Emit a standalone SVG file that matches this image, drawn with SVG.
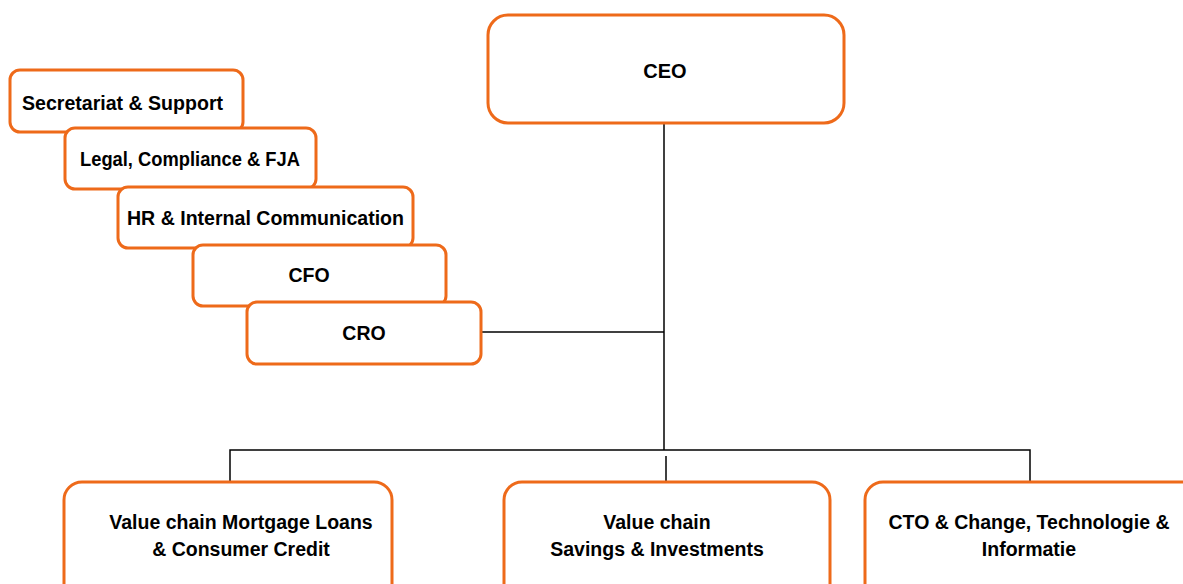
<svg xmlns="http://www.w3.org/2000/svg" width="1183" height="584" viewBox="0 0 1183 584">
<style>
.box{fill:#fff;stroke:#EE6A1A;stroke-width:3}
.t{font-family:"Liberation Sans",Arial,sans-serif;font-weight:bold;font-size:19.5px;fill:#000}
.c{text-anchor:middle}
.ln{stroke:#000;stroke-width:1.5;fill:none}
</style>
<rect width="1183" height="584" fill="#fff"/>
<g id="connectors">
<path class="ln" d="M664,123 V450"/>
<path class="ln" d="M481,332 H664"/>
<path class="ln" d="M230,482 V450 H1030 V482"/>
<path class="ln" d="M666,456 V482"/>
</g>
<g id="ceo">
<rect class="box" x="488" y="15" width="356" height="108" rx="20"/>
<text class="t c" x="665" y="78" style="font-size:20px">CEO</text>
</g>
<g id="secretariat">
<rect class="box" x="10" y="70" width="233" height="62" rx="10"/>
<text class="t" x="22" y="110" textLength="201" lengthAdjust="spacingAndGlyphs">Secretariat &amp; Support</text>
</g>
<g id="legal">
<rect class="box" x="65" y="128" width="251" height="61" rx="10"/>
<text class="t" x="80" y="166" textLength="220" lengthAdjust="spacingAndGlyphs">Legal, Compliance &amp; FJA</text>
</g>
<g id="hr">
<rect class="box" x="118" y="187" width="295" height="61" rx="10"/>
<text class="t" x="127" y="225" textLength="277" lengthAdjust="spacingAndGlyphs">HR &amp; Internal Communication</text>
</g>
<g id="cfo">
<rect class="box" x="193" y="245" width="253" height="61" rx="10"/>
<text class="t c" x="309" y="282">CFO</text>
</g>
<g id="cro">
<rect class="box" x="247" y="302" width="234" height="62" rx="10"/>
<text class="t c" x="364" y="340">CRO</text>
</g>
<g id="vc-mortgage">
<rect class="box" x="64" y="482" width="328" height="130" rx="18"/>
<text class="t c" x="241" y="529">Value chain Mortgage Loans</text>
<text class="t c" x="241" y="556">&amp; Consumer Credit</text>
</g>
<g id="vc-savings">
<rect class="box" x="504" y="482" width="326" height="130" rx="18"/>
<text class="t c" x="657" y="529">Value chain</text>
<text class="t c" x="657" y="556">Savings &amp; Investments</text>
</g>
<g id="cto">
<rect class="box" x="865" y="482" width="340" height="130" rx="18"/>
<text class="t c" x="1029" y="529">CTO &amp; Change, Technologie &amp;</text>
<text class="t c" x="1029" y="556">Informatie</text>
</g>
</svg>
